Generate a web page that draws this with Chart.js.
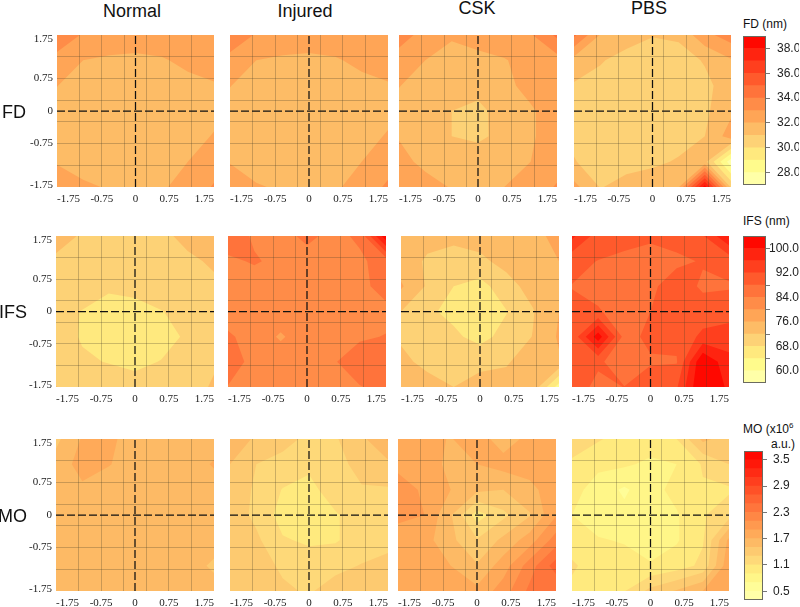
<!DOCTYPE html>
<html>
<head>
<meta charset="utf-8">
<style>
html,body{margin:0;padding:0;background:#fff;width:800px;height:607px;overflow:hidden}
#page{position:relative;width:800px;height:607px;overflow:hidden}
canvas{position:absolute}
.t{position:absolute;font-family:"Liberation Sans",Arial,sans-serif;color:#111;white-space:nowrap;line-height:1}
sup{font-size:8px;line-height:0}
</style>
<script src="https://cdn.jsdelivr.net/npm/chart.js@4/dist/chart.umd.min.js"></script>
</head>
<body>
<div id="page"></div>
<script>
const columns = ['Normal','Injured','CSK','PBS'];
const rowNames = ['FD','IFS','MO'];
const xNodes = [-1.75,-1.167,-0.583,0,0.583,1.167,1.75];
const yNodes = [1.75,1.167,0.583,0,-0.583,-1.167,-1.75];
const gridTicks = [-1.25,-0.75,-0.25,0.25,0.75,1.25];
const tickValues = [-1.75,-0.75,0,0.75,1.75];
const tickLabels = ['-1.75','-0.75','0','0.75','1.75'];

const fdLevels = [27,28,29,30,31,32,33,34,35,36,37,38,39];
const ifsLevels = [56,60,64,68,72,76,80,84,88,92,96,100,104];
const moLevels = [0.3,0.5,0.7,0.9,1.1,1.3,1.5,1.7,1.9,2.1,2.3,2.5,2.7,2.9,3.1,3.3,3.5,3.7];
const fdTicks = [28,30,32,34,36,38];
const ifsTicks = [60,68,76,84,92,100];
const ifsMarks = [64,72,80,88,100];
const moTicks = [0.5,1.1,1.7,2.3,2.9,3.5];

const fdNormal = [
[33.7,32.9,32.6,32.5,32.6,32.8,32.9],
[32.65,32.0,31.85,31.8,31.9,32.25,32.5],
[32.02,31.5,31.5,31.5,31.5,31.7,31.9],
[31.6,31.4,31.4,31.4,31.4,31.5,31.7],
[31.8,31.4,31.4,31.4,31.4,31.6,32.07],
[31.9,31.5,31.4,31.4,31.5,32.0,32.5],
[32.7,32.2,31.9,31.6,31.9,32.3,33.1]];
const fdInjured = [
[33.75,32.9,32.6,32.5,32.6,32.8,32.9],
[32.65,32.0,31.85,31.8,31.9,32.25,32.5],
[32.03,31.5,31.5,31.5,31.5,31.7,31.9],
[31.6,31.4,31.4,31.4,31.4,31.5,31.7],
[31.8,31.4,31.4,31.4,31.4,31.6,32.1],
[31.95,31.5,31.4,31.4,31.5,32.0,32.5],
[32.6,32.1,31.85,31.6,31.9,32.3,33.2]];
const fdCsk = [
[33.5,32.6,32.1,32.3,32.5,32.9,34.2],
[32.5,32.0,31.7,31.8,31.95,32.3,32.6],
[32.03,31.6,31.4,31.2,31.8,32.25,32.5],
[31.7,31.4,31.0,30.85,31.25,31.9,32.4],
[31.95,31.5,31.0,30.8,31.3,31.9,32.4],
[32.25,31.8,31.4,31.6,31.6,32.0,32.5],
[32.6,32.3,31.95,31.8,32.0,32.4,33.1]];
const fdPbs = [
[34.2,31.95,31.5,31.05,31.2,32.7,33.5],
[31.6,31.1,30.6,30.5,30.5,31.1,31.9],
[30.9,30.6,30.5,30.5,30.5,30.7,31.6],
[30.7,30.5,30.5,30.5,30.5,30.8,31.8],
[30.8,30.5,30.5,30.5,30.6,31.0,32.5],
[31.05,30.6,30.7,30.8,31.1,31.3,27.4],
[32.3,30.95,31.3,31.6,31.9,38.5,30.8]];

const ifsNormal = [
[73.5,71.6,70.8,70.5,71.5,72.6,73.5],
[71.3,70.3,69.8,69.8,70.2,71.6,72.3],
[70.2,69.3,68.4,68.7,69.5,70.3,71.6],
[68.8,67.9,67,67.2,67.9,68.9,70.3],
[69,67.8,66.5,66.5,67,68.4,69.8],
[69.5,68.3,67.9,67.4,68.1,69.2,71.5],
[72.1,70.8,69.5,69,69.5,70.3,72.5]];
const ifsInjured = [
[86.5,83.4,82.8,84.8,83,84.6,103],
[83.2,84.4,83,82.6,83,83.4,85.5],
[82.5,82,82.5,82.5,82.8,83.3,85],
[83,82.5,83.2,82,82.5,83,83.3],
[84.3,83.2,79.3,83.2,83,83.7,84.1],
[85.3,83.2,83.2,83.2,83.8,85.2,84.8],
[83.9,82.8,83,83,83.3,83.9,84.6]];
const ifsCsk = [
[75,73.2,72.6,73.5,74,75,77],
[74,71.5,71,71.2,73.2,75,76],
[76.5,71.5,68,66.5,70.5,73.5,75],
[72,68.7,66.9,65,67.8,71.7,76],
[71.5,70,68.8,66.6,69.5,72.1,76.5],
[72.9,71,70.5,71,71.5,74.5,75.5],
[74.5,73.5,72,73.5,74,75,62]];
const ifsPbs = [
[97,90,89.5,89,89.5,91.6,100],
[89,87.9,87,85.7,87.2,88.3,89.2],
[87.9,86.6,86.5,87.2,90,87.4,87.7],
[88.8,88.4,86,88,89,89.8,90],
[89,102.3,86.5,89,89,93,94.4],
[90,88.9,85,87.5,87.7,104,97],
[91,86.5,88.1,91,91.5,105,99]];

const moNormal = [
[1.45,1.72,1.74,1.62,1.6,1.6,1.6],
[1.58,1.78,1.71,1.62,1.6,1.6,1.72],
[1.6,1.66,1.6,1.6,1.6,1.6,1.6],
[1.6,1.6,1.6,1.6,1.6,1.6,1.6],
[1.6,1.6,1.6,1.6,1.6,1.6,1.6],
[1.6,1.6,1.6,1.6,1.6,1.6,1.46],
[1.6,1.6,1.6,1.6,1.6,1.6,1.6]];
const moInjured = [
[1.7,1.45,1.36,1.26,1.28,1.45,1.72],
[1.5,1.3,1.24,1.14,1.22,1.38,1.45],
[1.42,1.27,1.09,1.04,1.2,1.28,1.28],
[1.42,1.25,1.02,1.0,1.08,1.2,1.26],
[1.4,1.34,1.12,1.07,1.08,1.2,1.27],
[1.42,1.38,1.27,1.2,1.25,1.31,1.33],
[1.45,1.42,1.33,1.28,1.38,1.42,1.45]];
const moCsk = [
[1.8,1.75,1.69,1.8,1.6,1.76,1.8],
[1.82,1.8,1.65,1.7,1.78,1.78,1.8],
[2.05,1.85,1.7,1.55,1.5,1.65,1.8],
[1.95,1.9,1.52,1.0,1.25,1.48,1.88],
[1.8,1.78,1.55,1.32,1.55,1.8,2.2],
[1.8,1.82,1.7,1.52,1.8,2.2,2.6],
[1.85,1.8,1.78,1.75,2.0,2.35,2.3]];
const moPbs = [
[1.25,1.12,1.02,1.0,1.1,1.55,1.4],
[1.05,0.95,0.93,0.86,0.9,1.12,1.3],
[0.98,0.8,0.67,0.82,0.97,1.08,1.07],
[0.9,0.78,0.75,0.78,0.88,1.08,1.22],
[1.0,0.92,0.88,0.8,0.88,1.08,1.75],
[1.13,1.0,1.0,0.92,1.0,1.15,1.85],
[1.05,1.06,1.09,1.36,1.52,1.7,1.9]];

const panelData = [
  [fdNormal,fdInjured,fdCsk,fdPbs],
  [ifsNormal,ifsInjured,ifsCsk,ifsPbs],
  [moNormal,moInjured,moCsk,moPbs]
];
const rowLevels = [fdLevels,ifsLevels,moLevels];

// layout (pixels)
const rowBox = [[35,152],[236,151],[439,152]];
const colLeft = [[57,230,399,574],[56,228,401,572],[56,230,398,572]];
const colWidth = [[157,158,158,157],[158,158,158,157],[158,158,158,157]];
const palette = ['#FFFFA8','#FFFB8C','#FFE97E','#FDD276','#FDBC66','#FFA556','#FF8C48','#FF733B','#FF5A2C','#FF3F1E','#FF2410','#FF0800'];

function hexRgb(h){return [1,3,5].map(i=>parseInt(h.substr(i,2),16));}
function bandColors(n){
  const out=[];
  for(let k=0;k<n;k++){
    const t=(k+.5)/n*12-.5, a=Math.max(0,Math.min(11,Math.floor(t))), b=Math.min(11,a+1), f=Math.max(0,t-a);
    const A=hexRgb(palette[a]),B=hexRgb(palette[b]);
    out.push('rgb('+A.map((c,i)=>Math.round(c+(B[i]-c)*f)).join(',')+')');
  }
  return out;
}
function clip(poly,L){
  const out=[];
  for(let i=0;i<poly.length;i++){
    const p=poly[i],q=poly[(i+1)%poly.length];
    const pin=p.v>=L,qin=q.v>=L;
    if(pin) out.push(p);
    if(pin!==qin){
      const f=(L-p.v)/(q.v-p.v);
      out.push({px:p.px+(q.px-p.px)*f,py:p.py+(q.py-p.py)*f,v:L});
    }
  }
  return out;
}
const contourPlugin={
  id:'contour',
  beforeDraw(chart,args,opts){
    if(!opts.levels) return;
    const pts=chart.data.datasets[0].data, sx=chart.scales.x, sy=chart.scales.y, ctx=chart.ctx;
    const n=xNodes.length, cols=bandColors(opts.levels.length-1);
    const node=(i,j)=>{const p=pts[j*n+i];return {px:sx.getPixelForValue(p.x),py:sy.getPixelForValue(p.y),v:p.v};};
    const a=chart.chartArea;
    ctx.save();
    ctx.fillStyle=cols[0];
    ctx.fillRect(a.left,a.top,a.right-a.left,a.bottom-a.top);
    for(let k=1;k<cols.length;k++){
      const L=opts.levels[k];
      ctx.beginPath();
      let any=false;
      for(let j=0;j<n-1;j++)for(let i=0;i<n-1;i++){
        const poly=clip([node(i,j),node(i+1,j),node(i+1,j+1),node(i,j+1)],L);
        if(poly.length<3) continue;
        any=true;
        poly.forEach((p,m)=>m?ctx.lineTo(p.px,p.py):ctx.moveTo(p.px,p.py));
        ctx.closePath();
      }
      if(any){ctx.fillStyle=cols[k];ctx.fill();}
    }
    ctx.restore();
  }
};
const framePlugin={
  id:'frame',
  afterDraw(chart,args,opts){
    if(!opts.color) return;
    const a=chart.chartArea,ctx=chart.ctx;
    ctx.save();ctx.strokeStyle=opts.color;ctx.lineWidth=1;
    ctx.strokeRect(a.left+.5,a.top+.5,a.right-a.left-1,a.bottom-a.top-1);
    ctx.restore();
  }
};
Chart.register(contourPlugin,framePlugin);
Chart.defaults.animation=false;

const page=document.getElementById('page');
function addCanvas(l,t,w,h){
  const c=document.createElement('canvas');
  c.width=w;c.height=h;c.style.left=l+'px';c.style.top=t+'px';c.style.width=w+'px';c.style.height=h+'px';
  page.appendChild(c);return c;
}
const serif={family:'"Liberation Serif","Times New Roman",serif',size:11};
const gridCol='rgba(70,60,40,0.28)';
const dash={borderColor:'#111',borderWidth:1.25,borderDash:[8,3],pointRadius:0,showLine:true,fill:false};
function noPad(a){a.paddingLeft=0;a.paddingRight=0;a.paddingTop=0;a.paddingBottom=0;}

function panel(r,c){
  const yW=c===0?38:0, belowH=20;
  const [top,h]=rowBox[r], left=colLeft[r][c], w=colWidth[r][c];
  const cv=addCanvas(left-yW,top,w+yW,h+belowH);
  const nodes=[];
  panelData[r][c].forEach((row,j)=>row.forEach((v,i)=>nodes.push({x:xNodes[i],y:yNodes[j],v})));
  new Chart(cv,{
    type:'scatter',
    data:{datasets:[
      {data:nodes,pointRadius:0,showLine:false},
      Object.assign({data:[{x:0,y:-1.75},{x:0,y:1.75}]},dash),
      Object.assign({data:[{x:-1.75,y:0},{x:1.75,y:0}]},dash)
    ]},
    options:{
      responsive:false,animation:false,events:[],
      layout:{autoPadding:false,padding:0},
      plugins:{legend:{display:false},tooltip:{enabled:false},title:{display:false},
        contour:{levels:rowLevels[r]},frame:{}},
      scales:{
        x:{type:'linear',position:'bottom',min:-1.75,max:1.75,
          grid:{display:false,drawTicks:false},border:{display:false},
          afterBuildTicks:a=>{a.ticks=tickValues.map(v=>({value:v}));},
          afterFit:a=>{a.height=belowH;noPad(a);},
          ticks:{align:'inner',autoSkip:false,maxRotation:0,minRotation:0,padding:6,color:'#222',font:serif,
            callback:(v,i)=>tickLabels[i]}},
        gx:{type:'linear',position:'bottom',min:-1.75,max:1.75,
          grid:{color:gridCol,lineWidth:1,drawTicks:false},border:{display:false},
          afterBuildTicks:a=>{a.ticks=gridTicks.map(v=>({value:v}));},
          afterFit:a=>{a.height=0;noPad(a);},
          ticks:{display:false}},
        y:{type:'linear',position:'left',display:c===0,min:-1.75,max:1.75,
          grid:{display:false,drawTicks:false},border:{display:false},
          afterBuildTicks:a=>{a.ticks=[-1.70,-0.75,0,0.75,1.66].map(v=>({value:v}));},
          afterFit:a=>{a.width=yW;noPad(a);},
          ticks:{autoSkip:false,padding:4,color:'#222',font:serif,callback:(v,i)=>tickLabels[i]}},
        gy:{type:'linear',position:'left',min:-1.75,max:1.75,
          grid:{color:gridCol,lineWidth:1,drawTicks:false},border:{display:false},
          afterBuildTicks:a=>{a.ticks=gridTicks.map(v=>({value:v}));},
          afterFit:a=>{a.width=0;noPad(a);},
          ticks:{display:false}}
      }
    }
  });
}
for(let r=0;r<3;r++)for(let c=0;c<4;c++)panel(r,c);

function colorbar(levels,ticks,marks,box,labelPad,far){
  const [l,t,w,h]=box, right=800-l-w-1;
  const cv=addCanvas(l,t,w+right,h);
  const cols=bandColors(levels.length-1), top=levels[levels.length-1];
  new Chart(cv,{
    type:'bar',
    data:{labels:['band'],datasets:cols.map((col,k)=>({data:[[levels[0],levels[k+1]]],backgroundColor:col,borderWidth:0,barPercentage:1,categoryPercentage:1,grouped:false}))},
    options:{
      responsive:false,animation:false,events:[],
      layout:{autoPadding:false,padding:0},
      plugins:{legend:{display:false},tooltip:{enabled:false},frame:{color:'#6b6b60'}},
      scales:{
        x:{display:false,grid:{display:false}},
        y:{position:'right',min:levels[0],max:top,
          grid:{drawOnChartArea:false,drawTicks:true,tickLength:4,tickWidth:1,
            tickColor:ctx=>marks.includes(ctx.tick.value)?'#777':'rgba(0,0,0,0)'},
          border:{display:false},
          afterBuildTicks:a=>{a.ticks=[...new Set([...ticks,...marks])].sort((p,q)=>p-q).map(v=>({value:v}));},
          afterFit:a=>{a.width=right;noPad(a);},
          ticks:{autoSkip:false,padding:labelPad,crossAlign:far?'far':'near',color:'#222',
            font:{family:'"Liberation Sans",Arial,sans-serif',size:12},
            callback:v=>ticks.includes(v)?v.toFixed(1):''}}
      }
    }
  });
}
colorbar(fdLevels,fdTicks,fdTicks,[743,36,23,149],7,false);
colorbar(ifsLevels,ifsTicks,ifsMarks,[743,236,23,147],4,true);
colorbar(moLevels,moTicks,moTicks,[744,451,19,149],6,false);

function text(html,x,y,size,anchor){
  const d=document.createElement('div');
  d.className='t';d.innerHTML=html;d.style.fontSize=size+'px';d.style.left=x+'px';d.style.top=y+'px';
  d.style.transform='translate('+(anchor==='c'?'-50%':anchor==='r'?'-100%':'0')+',-50%)';
  page.appendChild(d);
}
[[132,11],[305,11],[477,8],[649,8]].forEach((p,i)=>text(columns[i],p[0],p[1],18,'c'));
[[2,112],[-1,312],[-2,516]].forEach((p,i)=>text(rowNames[i],p[0],p[1],18,'l'));
text('FD (nm)',743,24,12,'l');
text('IFS (nm)',743,221,12,'l');
text('MO (x10<sup>6</sup>',743,429,12,'l');
text('a.u.)',795,444,12,'r');
</script>
</body>
</html>
